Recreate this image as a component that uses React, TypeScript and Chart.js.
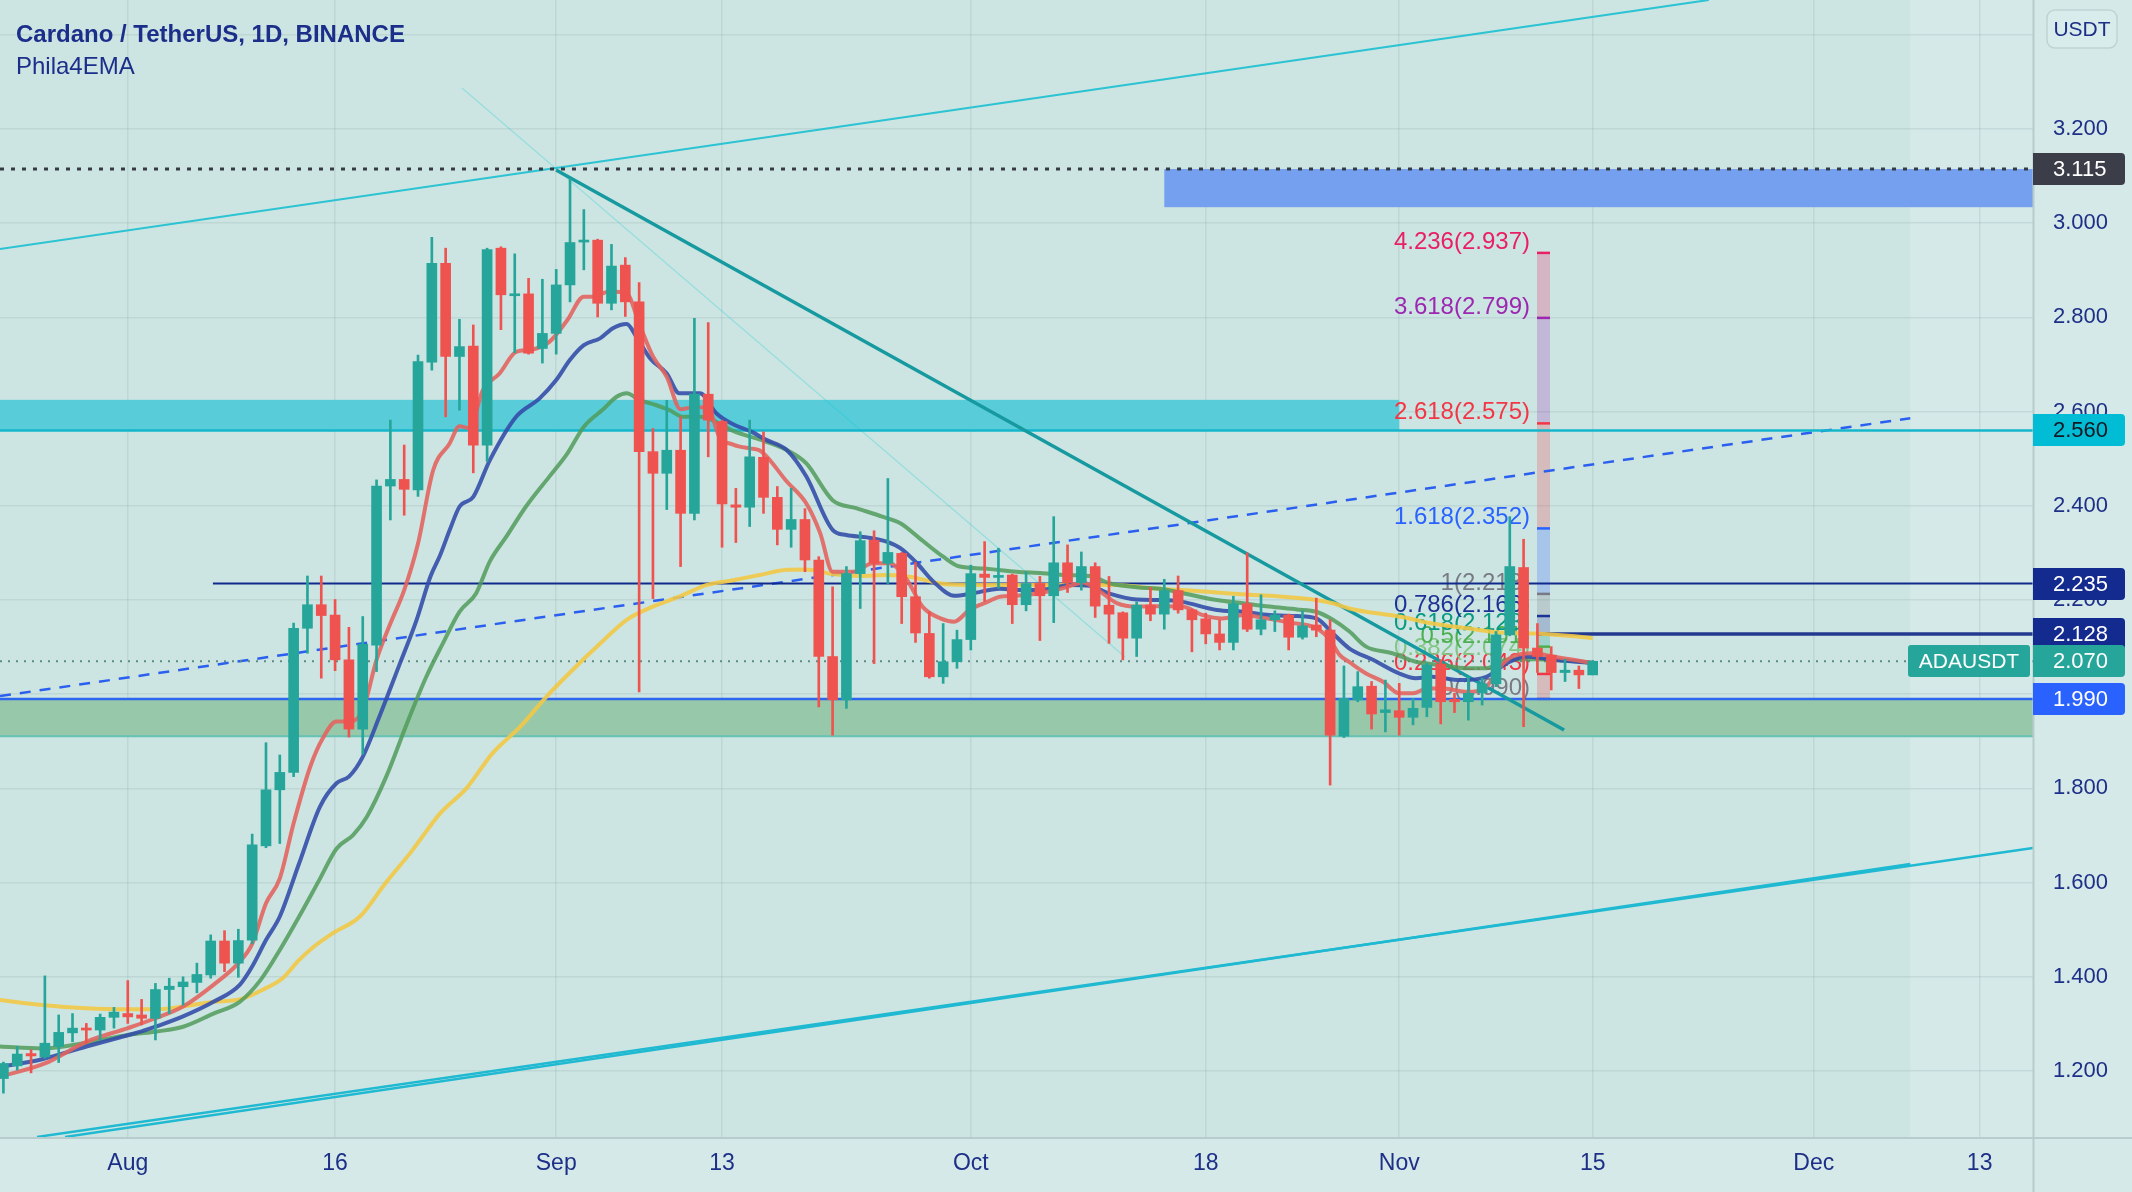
import React, { useEffect, useRef } from 'react';
import { Chart, registerables } from 'chart.js';

Chart.register(...registerables);

// ---------------- data ----------------
// day 0 = 1 Aug; candles start on 23 Jul (day -9), one candle per day
const FIRST_CANDLE_DAY = -9;

const opens = [
  1.184, 1.211, 1.237, 1.230, 1.252, 1.281, 1.291, 1.287, 1.314,
  1.322, 1.319, 1.312, 1.373, 1.379, 1.388, 1.404, 1.476, 1.429, 1.478, 1.678, 1.797, 1.834, 2.140, 2.190, 2.168,
  2.073, 1.926, 2.104, 2.442, 2.456, 2.434, 2.705, 2.915, 2.717, 2.739, 2.529, 2.947, 2.846, 2.850, 2.734,
  2.766, 2.869, 2.960, 2.964, 2.830, 2.911, 2.833, 2.515, 2.469, 2.518, 2.384, 2.637, 2.579, 2.402, 2.397,
  2.503, 2.418, 2.350, 2.371, 2.285, 2.080, 1.988, 2.256, 2.327, 2.278, 2.299, 2.207, 2.129, 2.037, 2.069,
  2.116, 2.255, 2.248, 2.253, 2.190, 2.235, 2.209, 2.279, 2.237, 2.271, 2.189, 2.173, 2.119, 2.189, 2.170,
  2.220, 2.179, 2.160, 2.128, 2.110, 2.192, 2.138, 2.158, 2.168, 2.121, 2.147, 2.136, 1.911, 1.988, 2.017,
  1.961, 1.965, 1.951, 1.972, 2.064, 1.989, 1.984, 2.003, 2.022, 2.126, 2.269, 2.098, 2.083, 2.046, 2.051, 2.041,
];
const highs = [
  1.219, 1.252, 1.245, 1.402, 1.319, 1.322, 1.301, 1.321, 1.335,
  1.392, 1.352, 1.386, 1.397, 1.400, 1.429, 1.489, 1.498, 1.501, 1.703, 1.897, 1.871, 2.151, 2.251, 2.251, 2.201,
  2.142, 2.165, 2.455, 2.582, 2.529, 2.720, 2.970, 2.947, 2.796, 2.784, 2.947, 2.950, 2.935, 2.883, 2.881,
  2.902, 3.095, 3.029, 2.966, 2.955, 2.927, 2.874, 2.564, 2.624, 2.589, 2.798, 2.789, 2.582, 2.437, 2.582,
  2.557, 2.441, 2.437, 2.394, 2.292, 2.228, 2.271, 2.345, 2.347, 2.458, 2.301, 2.280, 2.175, 2.150, 2.136,
  2.274, 2.324, 2.310, 2.255, 2.260, 2.250, 2.377, 2.317, 2.302, 2.279, 2.250, 2.175, 2.196, 2.227, 2.244,
  2.251, 2.181, 2.172, 2.157, 2.208, 2.300, 2.211, 2.177, 2.170, 2.177, 2.204, 2.158, 2.060, 2.048, 2.027,
  2.030, 2.023, 1.991, 2.066, 2.073, 2.002, 2.037, 2.034, 2.133, 2.377, 2.329, 2.150, 2.101, 2.074, 2.060, 2.071,
];
const lows = [
  1.153, 1.202, 1.196, 1.227, 1.218, 1.262, 1.259, 1.266, 1.291,
  1.301, 1.298, 1.266, 1.322, 1.340, 1.366, 1.397, 1.411, 1.399, 1.470, 1.674, 1.683, 1.825, 2.087, 2.034, 2.050,
  1.909, 1.873, 2.048, 2.370, 2.380, 2.420, 2.688, 2.589, 2.603, 2.470, 2.494, 2.774, 2.725, 2.722, 2.703,
  2.722, 2.833, 2.901, 2.801, 2.816, 2.802, 2.005, 2.203, 2.392, 2.271, 2.370, 2.504, 2.312, 2.322, 2.356,
  2.384, 2.317, 2.312, 2.260, 1.973, 1.913, 1.970, 2.182, 2.065, 2.235, 2.150, 2.110, 2.034, 2.023, 2.055,
  2.094, 2.197, 2.225, 2.150, 2.177, 2.114, 2.152, 2.216, 2.221, 2.163, 2.108, 2.073, 2.080, 2.156, 2.138,
  2.172, 2.090, 2.107, 2.094, 2.094, 2.133, 2.126, 2.133, 2.094, 2.117, 2.122, 1.807, 1.908, 1.984, 1.926,
  1.920, 1.913, 1.935, 1.952, 1.937, 1.961, 1.945, 1.977, 2.016, 2.124, 1.931, 2.046, 2.009, 2.027, 2.012, 2.041,
];
const closes = [
  1.216, 1.236, 1.232, 1.259, 1.282, 1.291, 1.287, 1.314, 1.325,
  1.315, 1.312, 1.373, 1.380, 1.389, 1.405, 1.476, 1.429, 1.477, 1.680, 1.797, 1.834, 2.140, 2.190, 2.167, 2.073,
  1.926, 2.106, 2.442, 2.456, 2.435, 2.706, 2.915, 2.717, 2.738, 2.529, 2.944, 2.848, 2.850, 2.724, 2.766,
  2.869, 2.959, 2.964, 2.830, 2.909, 2.833, 2.515, 2.469, 2.518, 2.384, 2.637, 2.582, 2.404, 2.397, 2.504,
  2.418, 2.350, 2.371, 2.285, 2.080, 1.988, 2.256, 2.326, 2.278, 2.301, 2.207, 2.130, 2.037, 2.069, 2.116,
  2.256, 2.248, 2.252, 2.190, 2.235, 2.209, 2.279, 2.237, 2.271, 2.187, 2.170, 2.119, 2.189, 2.170, 2.220,
  2.179, 2.158, 2.128, 2.110, 2.192, 2.138, 2.158, 2.168, 2.121, 2.145, 2.136, 1.913, 1.991, 2.016, 1.958,
  1.967, 1.951, 1.970, 2.062, 1.984, 1.984, 2.002, 2.022, 2.126, 2.271, 2.098, 2.080, 2.046, 2.051, 2.041, 2.070,
];

// Phila4EMA lines as [day, price]
const emaFast: [number, number][] = [
  [-9.25, 1.188], [-6, 1.216], [-3, 1.262], [0, 1.291], [2, 1.312], [4, 1.337], [6.2, 1.383], [8, 1.429], [9, 1.47],
  [10, 1.556], [11, 1.609], [12, 1.726], [13.2, 1.846], [14.1, 1.906], [15.1, 1.942], [16.1, 1.942], [17, 1.966],
  [18, 2.073], [19, 2.15], [20, 2.221], [21, 2.32], [22.1, 2.476], [23.3, 2.533], [24, 2.569], [24.7, 2.565],
  [25.7, 2.646], [26.9, 2.681], [28.1, 2.727], [29.1, 2.731], [30.5, 2.748], [31.8, 2.794], [33, 2.844], [33.6, 2.844],
  [34.9, 2.855], [36.1, 2.851], [37, 2.787], [38, 2.717], [39, 2.674], [40, 2.605], [41, 2.61], [42, 2.607],
  [42.8, 2.547], [43.8, 2.53], [45, 2.522], [45.7, 2.518], [47.7, 2.451], [49.1, 2.405], [50.1, 2.342], [51, 2.26],
  [52.5, 2.26], [53.9, 2.278], [55.1, 2.278], [56.4, 2.242], [57.5, 2.186], [58.8, 2.161], [59.8, 2.154], [60.9, 2.179],
  [62.2, 2.196], [63.1, 2.207], [64.3, 2.209], [66.2, 2.216], [67.9, 2.227], [69.1, 2.237], [70.1, 2.223], [71.6, 2.193],
  [73, 2.186], [74.9, 2.187], [76.3, 2.186], [77.8, 2.168], [79.2, 2.161], [80.7, 2.168], [82.4, 2.161], [84.1, 2.152],
  [86, 2.14], [87, 2.115], [87.7, 2.083], [88.4, 2.068], [89.6, 2.044], [90.8, 2.027], [92, 2.002], [93, 2.002],
  [94, 2.012], [95.2, 2.012], [96.9, 2.005], [98.3, 2.016], [99.3, 2.058], [100.2, 2.08], [101.7, 2.087], [103.1, 2.08],
  [104.6, 2.073], [106, 2.066],
];
const emaMid: [number, number][] = [
  [-9.25, 1.209], [-6.2, 1.225], [-3, 1.252], [0, 1.276], [1, 1.284], [2, 1.294], [4, 1.316], [6.2, 1.347], [8.1, 1.383],
  [9, 1.422], [10, 1.478], [11, 1.528], [12.4, 1.641], [13.9, 1.761], [15.1, 1.811], [16, 1.825], [17, 1.867],
  [18.2, 1.952], [19.7, 2.066], [20.9, 2.158], [21.9, 2.25], [22.6, 2.295], [23.3, 2.349], [24, 2.398], [25, 2.419],
  [26.2, 2.497], [28.1, 2.589], [29.8, 2.628], [31, 2.667], [32, 2.71], [33, 2.741], [34.2, 2.756], [35.1, 2.777],
  [36.1, 2.786], [36.8, 2.759], [37.8, 2.713], [39, 2.681], [39.9, 2.639], [41.4, 2.639], [42.6, 2.596], [43.8, 2.573],
  [45, 2.559], [46.2, 2.54], [47.7, 2.518], [49.1, 2.462], [51, 2.349], [52, 2.338], [53.5, 2.333], [54.9, 2.324],
  [55.9, 2.31], [57.1, 2.278], [58.3, 2.239], [59.8, 2.209], [61.1, 2.214], [63.1, 2.224], [64.8, 2.221], [66.5, 2.223],
  [68.2, 2.232], [69.6, 2.23], [71.1, 2.213], [73, 2.201], [74.9, 2.2], [76.3, 2.196], [78.8, 2.179], [80.7, 2.175],
  [82.6, 2.168], [84.6, 2.166], [86, 2.161], [87.2, 2.129], [88.4, 2.097], [90.1, 2.073], [92, 2.044], [93.2, 2.034],
  [94.4, 2.037], [96.4, 2.03], [98.3, 2.037], [99.8, 2.066], [101.2, 2.08], [103.1, 2.073], [106, 2.066],
];
const emaSlow: [number, number][] = [
  [-9.25, 1.252], [-6.2, 1.248], [-3, 1.26], [0.1, 1.277], [2.1, 1.284], [4, 1.294], [6.2, 1.322], [8.1, 1.347],
  [9.6, 1.393], [11, 1.457], [12.4, 1.528], [13.9, 1.608], [15.1, 1.672], [16.3, 1.701], [17.3, 1.74], [18.7, 1.825],
  [20.2, 1.938], [21.6, 2.037], [22.8, 2.108], [24, 2.175], [25.2, 2.214], [26.2, 2.282], [27.4, 2.335], [28.8, 2.398],
  [30.5, 2.462], [31.8, 2.511], [33, 2.568], [34.4, 2.605], [35.4, 2.632], [36.1, 2.639], [37, 2.625], [38.2, 2.614],
  [39.2, 2.603], [40.2, 2.589], [41.4, 2.589], [42.6, 2.578], [43.8, 2.559], [46.2, 2.536], [47.9, 2.515], [49.1, 2.49],
  [51, 2.412], [52.7, 2.395], [54.6, 2.377], [55.9, 2.363], [57.3, 2.331], [59, 2.292], [60.2, 2.271], [61.9, 2.267],
  [64.3, 2.26], [66.2, 2.257], [67.9, 2.253], [69.6, 2.251], [71.1, 2.235], [73, 2.227], [74.9, 2.223], [76.9, 2.211],
  [78.8, 2.2], [80.7, 2.193], [82.6, 2.186], [84.6, 2.18], [86, 2.175], [87.2, 2.158], [88.4, 2.133], [89.6, 2.101],
  [91.5, 2.087], [93.2, 2.069], [95, 2.062], [96.9, 2.055], [98.3, 2.055], [99.8, 2.073], [101.7, 2.074], [104.2, 2.071],
  [106, 2.067],
];
const emaLong: [number, number][] = [
  [-9.25, 1.351], [-6.2, 1.34], [-3, 1.333], [0.1, 1.331], [2.1, 1.331], [4, 1.337], [6.2, 1.347], [8.1, 1.352],
  [10, 1.376], [11.2, 1.397], [12.4, 1.436], [13.5, 1.465], [14.8, 1.492], [16.8, 1.528], [18.6, 1.597], [20.6, 1.669],
  [22.6, 1.747], [24.5, 1.8], [26.4, 1.875], [28.4, 1.931], [30.3, 1.995], [32.2, 2.052], [34.2, 2.108], [36.1, 2.158],
  [38, 2.186], [39.9, 2.207], [41.9, 2.232], [43.8, 2.242], [45.7, 2.253], [47.7, 2.264], [49.1, 2.265], [51, 2.255],
  [53, 2.251], [54.9, 2.253], [56.7, 2.249], [58.8, 2.235], [60.7, 2.232], [65, 2.232], [71.6, 2.232], [74, 2.225],
  [76.3, 2.221], [78.8, 2.216], [81.2, 2.211], [83.6, 2.207], [86, 2.2], [87.2, 2.193], [88.4, 2.182], [89.6, 2.175],
  [92, 2.165], [94.4, 2.15], [96.9, 2.14], [99.3, 2.131], [101.7, 2.129], [104.2, 2.124], [106, 2.119],
];

// axes
const xTickDays = [0, 15, 31, 43, 61, 78, 92, 106, 122, 134];
const xTickLabels = ['Aug', '16', 'Sep', '13', 'Oct', '18', 'Nov', '15', 'Dec', '13'];
const yTickValues = [1.2, 1.4, 1.6, 1.8, 2.0, 2.2, 2.4, 2.6, 2.8, 3.0, 3.2, 3.4];
const X_MIN = -9.247;
const X_MAX = 137.86;
const Y_MIN = 1.0599;
const Y_MAX = 3.4739;

// drawings, in chart coordinates [day, price]
const upperChannel: [number, number][] = [[-9.247, 2.945], [114.4, 3.474]];
const lowerChannelA: [number, number][] = [[-6.57, 1.06], [137.86, 1.6735]];
const lowerChannelB: [number, number][] = [[-4.54, 1.06], [128.98, 1.6395]];
const downTrend: [number, number][] = [[30.99, 3.113], [103.93, 1.924]];
const faintTrend: [number, number][] = [[24.18, 3.287], [72.16, 2.079]];
const dashedTrend: [number, number][] = [[-9.247, 1.996], [128.98, 2.586]];

const levelPrices = [3.115, 2.56, 2.235, 2.128, 2.07, 1.99];
const levelStartDays = [-9.247, -9.247, 6.16, 101.97, -9.247, -9.247];

// zones: background channel area, sell zone, resistance zone, support zone
const zoneStartDays = [-9.247, 75.0, -9.247, -9.247];
const zoneEndDays = [128.98, 137.86, 92.0, 137.86];
const zoneTops = [Y_MAX, 3.115, 2.625, 1.99];
const zoneBottoms = [Y_MIN, 3.034, 2.56, 1.911];

// fib extension
const fibRatios = ['0', '0.236', '0.382', '0.5', '0.618', '0.786', '1', '1.618', '2.618', '3.618', '4.236'];
const fibPrices = [1.99, 2.043, 2.074, 2.101, 2.128, 2.166, 2.213, 2.352, 2.575, 2.799, 2.937];
const fibBarDays = [101.97, 102.91];

// price-axis labels
const axisLabelPrices = [3.115, 2.56, 2.235, 2.128, 2.07, 1.99];
const symbolName = 'ADAUSDT';
const currencyName = 'USDT';

// ---------------- styles ----------------
const FONT = '"Liberation Sans", Arial, sans-serif';
const TEXT = '#1d2f86';
const BG = '#d5e9e9';
const GRID = 'rgba(110,150,150,0.17)';
const UP = '#26a69a';
const DOWN = '#ef5350';
const ZONE_FILLS = ['#cde5e2', '#74a0ef', '#58cdd9', '#98c8aa'];
const FIB_COLORS = ['#787b86', '#f23645', '#81c784', '#4caf50', '#089981', '#1c3296', '#787b86', '#2962ff', '#f23645', '#9c27b0', '#e91e63'];
const LEVEL_STYLES = [
  { color: '#363a45', width: 3, dash: [4, 7] },
  { color: '#14b6cb', width: 2.5, dash: [] },
  { color: '#102a8c', width: 2, dash: [] },
  { color: '#23398f', width: 3.5, dash: [] },
  { color: '#5b8c86', width: 2, dash: [2, 6] },
  { color: '#2d66ee', width: 2.5, dash: [] },
];
const AXIS_LABEL_STYLES = [
  { bg: '#3b3e48', fg: '#ffffff' },
  { bg: '#00bcd4', fg: '#131722' },
  { bg: '#132b8e', fg: '#ffffff' },
  { bg: '#132b8e', fg: '#ffffff' },
  { bg: '#26a69a', fg: '#ffffff' },
  { bg: '#2962ff', fg: '#ffffff' },
];

function hexA(hex: string, a: number) {
  const n = parseInt(hex.slice(1), 16);
  return `rgba(${(n >> 16) & 255},${(n >> 8) & 255},${n & 255},${a})`;
}

function rrect(ctx: CanvasRenderingContext2D, x: number, y: number, w: number, h: number, rl: number, rr: number) {
  ctx.beginPath();
  ctx.moveTo(x + rl, y);
  ctx.lineTo(x + w - rr, y);
  if (rr) ctx.arcTo(x + w, y, x + w, y + rr, rr);
  ctx.lineTo(x + w, y + h - rr);
  if (rr) ctx.arcTo(x + w, y + h, x + w - rr, y + h, rr);
  ctx.lineTo(x + rl, y + h);
  if (rl) ctx.arcTo(x, y + h, x, y + h - rl, rl);
  ctx.lineTo(x, y + rl);
  if (rl) ctx.arcTo(x, y, x + rl, y, rl);
  ctx.closePath();
}

const drawPlugin = {
  id: 'tvDrawings',
  beforeDraw(chart: any) {
    const { ctx, width, height, chartArea } = chart;
    const xs = chart.scales.x;
    const ys = chart.scales.y;
    ctx.save();
    ctx.fillStyle = BG;
    ctx.fillRect(0, 0, width, height);
    const x0 = xs.getPixelForValue(zoneStartDays[0]);
    const x1 = xs.getPixelForValue(zoneEndDays[0]);
    const y0 = ys.getPixelForValue(zoneTops[0]);
    const y1 = ys.getPixelForValue(zoneBottoms[0]);
    ctx.fillStyle = ZONE_FILLS[0];
    ctx.fillRect(x0, Math.max(y0, chartArea.top), x1 - x0, Math.min(y1, chartArea.bottom) - Math.max(y0, chartArea.top));
    ctx.restore();
  },
  beforeDatasetsDraw(chart: any) {
    const { ctx, chartArea } = chart;
    const xs = chart.scales.x;
    const ys = chart.scales.y;
    ctx.save();
    ctx.beginPath();
    ctx.rect(chartArea.left, chartArea.top, chartArea.right - chartArea.left, chartArea.bottom - chartArea.top);
    ctx.clip();
    for (let i = 1; i < zoneStartDays.length; i++) {
      const x0 = xs.getPixelForValue(zoneStartDays[i]);
      const x1 = xs.getPixelForValue(zoneEndDays[i]);
      const y0 = ys.getPixelForValue(zoneTops[i]);
      const y1 = ys.getPixelForValue(zoneBottoms[i]);
      ctx.fillStyle = ZONE_FILLS[i];
      ctx.fillRect(x0, y0, x1 - x0, y1 - y0);
      if (i === 3) {
        ctx.strokeStyle = '#66c2b5';
        ctx.lineWidth = 2;
        ctx.beginPath();
        ctx.moveTo(x0, y1);
        ctx.lineTo(x1, y1);
        ctx.stroke();
      }
    }
    // fib extension bar
    const bx0 = xs.getPixelForValue(fibBarDays[0]);
    const bx1 = xs.getPixelForValue(fibBarDays[1]);
    for (let i = 1; i < fibPrices.length; i++) {
      const ya = ys.getPixelForValue(fibPrices[i]);
      const yb = ys.getPixelForValue(fibPrices[i - 1]);
      ctx.fillStyle = hexA(FIB_COLORS[i], 0.24);
      ctx.fillRect(bx0, ya, bx1 - bx0, yb - ya);
    }
    ctx.font = `24px ${FONT}`;
    ctx.textAlign = 'right';
    ctx.textBaseline = 'alphabetic';
    for (let i = 0; i < fibPrices.length; i++) {
      const y = ys.getPixelForValue(fibPrices[i]);
      ctx.strokeStyle = FIB_COLORS[i];
      ctx.lineWidth = 2.5;
      ctx.beginPath();
      ctx.moveTo(bx0, y);
      ctx.lineTo(bx1, y);
      ctx.stroke();
      ctx.fillStyle = FIB_COLORS[i];
      ctx.fillText(`${fibRatios[i]}(${fibPrices[i].toFixed(3)})`, bx0 - 7, y - 4);
    }
    ctx.restore();
  },
  afterDraw(chart: any) {
    const { ctx, width, height, chartArea } = chart;
    const ys = chart.scales.y;
    ctx.save();
    ctx.strokeStyle = '#b7cccc';
    ctx.lineWidth = 2;
    ctx.beginPath();
    ctx.moveTo(chartArea.right + 0.5, 0);
    ctx.lineTo(chartArea.right + 0.5, height);
    ctx.moveTo(0, chartArea.bottom + 1);
    ctx.lineTo(width, chartArea.bottom + 1);
    ctx.stroke();

    ctx.font = `22px ${FONT}`;
    ctx.textBaseline = 'middle';
    axisLabelPrices.forEach((p, i) => {
      const y = Math.round(ys.getPixelForValue(p));
      const st = AXIS_LABEL_STYLES[i];
      if (i === 4) {
        ctx.fillStyle = st.bg;
        rrect(ctx, chartArea.right - 125, y - 16, 122, 32, 3, 3);
        ctx.fill();
        ctx.fillStyle = st.fg;
        ctx.textAlign = 'center';
        ctx.font = `21px ${FONT}`;
        ctx.fillText(symbolName, chartArea.right - 64, y + 1);
        ctx.font = `22px ${FONT}`;
      }
      ctx.fillStyle = st.bg;
      rrect(ctx, chartArea.right, y - 16, 92, 32, 0, 4);
      ctx.fill();
      ctx.fillStyle = st.fg;
      ctx.textAlign = 'left';
      ctx.fillText(p.toFixed(3), chartArea.right + 20, y + 1);
    });

    // currency badge
    ctx.fillStyle = '#d9ecec';
    ctx.strokeStyle = '#bfd3d3';
    ctx.lineWidth = 1.5;
    rrect(ctx, chartArea.right + 14, 10, 70, 38, 8, 8);
    ctx.fill();
    ctx.stroke();
    ctx.fillStyle = TEXT;
    ctx.font = `21px ${FONT}`;
    ctx.textAlign = 'center';
    ctx.fillText(currencyName, chartArea.right + 49, 30);
    ctx.restore();
  },
};

function lineDs(points: [number, number][], color: string, width: number, dash: number[] = [], order = 10, extra: any = {}) {
  return {
    type: 'line',
    data: points.map(([x, y]) => ({ x, y })),
    borderColor: color,
    borderWidth: width,
    borderDash: dash,
    pointRadius: 0,
    fill: false,
    tension: 0,
    order,
    clip: 0,
    ...extra,
  };
}

export default function App() {
  const ref = useRef<HTMLCanvasElement>(null);

  useEffect(() => {
    document.body.style.margin = '0';
    const canvas = ref.current;
    if (!canvas) return;
    Chart.defaults.font.family = FONT;

    const days = opens.map((_, i) => FIRST_CANDLE_DAY + i);
    const colors = opens.map((o, i) => (closes[i] >= o ? UP : DOWN));

    const datasets: any[] = [
      lineDs(upperChannel, '#2cc3d3', 2),
      lineDs(lowerChannelA, '#20b9d2', 2.5),
      lineDs(lowerChannelB, '#20b9d2', 2.5),
      lineDs(faintTrend, 'rgba(0,200,215,0.25)', 1.5),
      lineDs(dashedTrend, '#2a5ff0', 2.5, [11, 9]),
      ...levelPrices.map((p, i) =>
        lineDs([[levelStartDays[i], p], [X_MAX, p]], LEVEL_STYLES[i].color, LEVEL_STYLES[i].width, LEVEL_STYLES[i].dash, 9)
      ),
      lineDs(downTrend, '#169aa0', 3.5, [], 8),
      lineDs(emaLong, 'rgba(242,200,70,0.9)', 4, [], 6, { cubicInterpolationMode: 'monotone' }),
      lineDs(emaSlow, 'rgba(80,155,90,0.85)', 4, [], 5, { cubicInterpolationMode: 'monotone' }),
      lineDs(emaMid, 'rgba(52,78,170,0.9)', 4, [], 4, { cubicInterpolationMode: 'monotone' }),
      lineDs(emaFast, 'rgba(226,100,95,0.9)', 4, [], 3, { cubicInterpolationMode: 'monotone' }),
      {
        type: 'bar',
        data: days.map((d, i) => ({ x: d, y: [lows[i], highs[i]] })),
        backgroundColor: colors,
        borderWidth: 0,
        barThickness: 2,
        grouped: false,
        order: 2,
      },
      {
        type: 'bar',
        data: days.map((d, i) => ({ x: d, y: [opens[i], closes[i]] })),
        backgroundColor: colors,
        borderWidth: 0,
        barThickness: 10,
        minBarLength: 2,
        grouped: false,
        order: 1,
      },
    ];

    const zeroPad = (s: any) => {
      s.paddingLeft = 0;
      s.paddingRight = 0;
      s.paddingTop = 0;
      s.paddingBottom = 0;
    };

    const chart = new Chart(canvas, {
      type: 'bar',
      data: { datasets },
      options: {
        responsive: false,
        animation: false,
        devicePixelRatio: 1,
        events: [],
        layout: { padding: 0 },
        plugins: { legend: { display: false }, tooltip: { enabled: false } },
        scales: {
          x: {
            type: 'linear',
            min: X_MIN,
            max: X_MAX,
            offset: false,
            grid: { offset: false, color: GRID, drawTicks: false, lineWidth: 1.5 },
            border: { display: false },
            ticks: {
              autoSkip: false,
              maxRotation: 0,
              minRotation: 0,
              padding: 13,
              color: TEXT,
              font: { family: FONT, size: 23 },
              callback: (_v: any, i: number) => xTickLabels[i] ?? '',
            },
            afterBuildTicks: (s: any) => {
              s.ticks = xTickDays.map((v) => ({ value: v }));
            },
            afterFit: (s: any) => {
              s.height = 55;
              zeroPad(s);
            },
          },
          y: {
            type: 'linear',
            position: 'right',
            min: Y_MIN,
            max: Y_MAX,
            beginAtZero: false,
            grid: { color: GRID, drawTicks: false, lineWidth: 1.5 },
            border: { display: false },
            ticks: {
              autoSkip: false,
              padding: 20,
              color: TEXT,
              font: { family: FONT, size: 22 },
              callback: (v: any) => (Number(v) > 3.3 ? '' : Number(v).toFixed(3)),
            },
            afterBuildTicks: (s: any) => {
              s.ticks = yTickValues.map((v) => ({ value: v }));
            },
            afterFit: (s: any) => {
              s.width = 99;
              zeroPad(s);
            },
          },
        },
      } as any,
      plugins: [drawPlugin as any],
    } as any);

    return () => chart.destroy();
  }, []);

  return (
    <div style={{ position: 'fixed', left: 0, top: 0, width: 2132, height: 1192, overflow: 'hidden' }}>
      <canvas ref={ref} width={2132} height={1192} style={{ display: 'block', width: 2132, height: 1192 }} />
      <div
        style={{
          position: 'absolute', left: 16, top: 22, font: `bold 24px ${FONT}`, lineHeight: '24px',
          color: '#1b2e8a', whiteSpace: 'nowrap',
        }}
      >
        Cardano / TetherUS, 1D, BINANCE
      </div>
      <div
        style={{
          position: 'absolute', left: 16, top: 54, font: `24px ${FONT}`, lineHeight: '24px',
          color: '#1b2e8a', whiteSpace: 'nowrap',
        }}
      >
        Phila4EMA
      </div>
    </div>
  );
}
